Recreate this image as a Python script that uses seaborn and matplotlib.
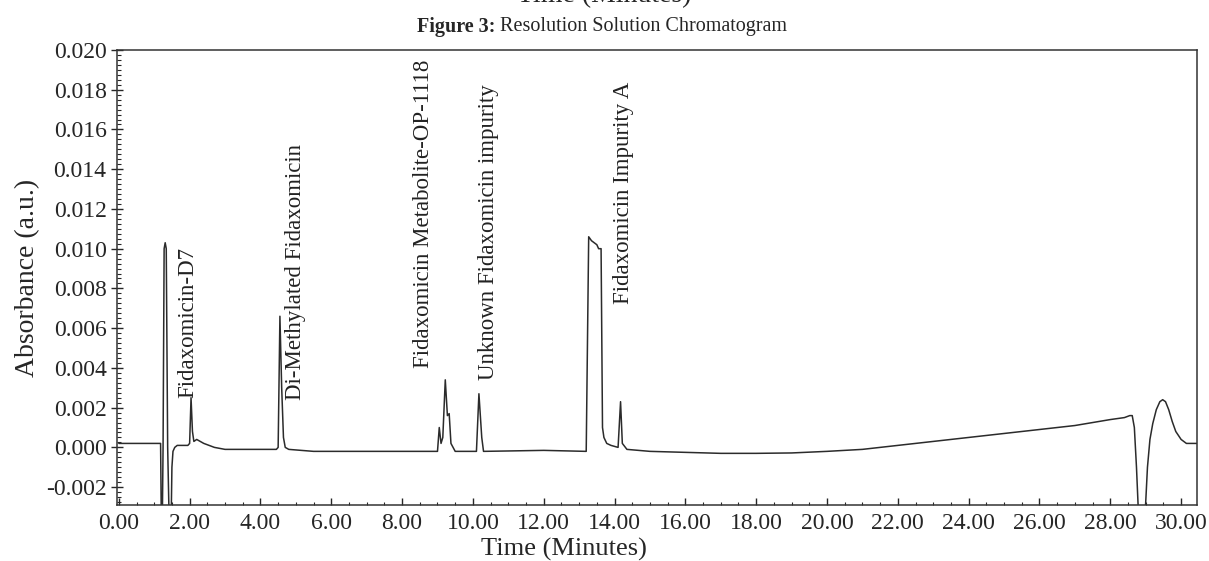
import numpy as np
import pandas as pd
import matplotlib
matplotlib.use("Agg")
import matplotlib.pyplot as plt
import seaborn as sns
from matplotlib.ticker import MultipleLocator, FormatStrFormatter

# chromatogram trace (time in minutes, absorbance in a.u.)
time_min = [
    0.00, 1.18, 1.20, 1.23, 1.25, 1.28, 1.31, 1.34, 1.38, 1.42, 1.48, 1.50,
    1.53, 1.58, 1.65, 1.80, 1.95, 2.00, 2.04, 2.08, 2.12, 2.20, 2.40, 2.70, 3.00,
    3.50, 4.45, 4.50, 4.55, 4.60, 4.65, 4.70, 4.80, 5.50, 7.00, 9.00, 9.05,
    9.10, 9.15, 9.22, 9.28, 9.33, 9.38, 9.50, 10.10, 10.17, 10.25, 10.30, 11.00, 12.00,
    13.20, 13.27, 13.35, 13.50, 13.55, 13.62, 13.66, 13.70, 13.78, 13.90, 14.10, 14.17, 14.22,
    14.35, 15.00, 16.00, 17.00, 18.00, 19.00, 20.00, 21.00, 22.00, 23.00, 24.00, 25.00, 26.00,
    27.00, 28.00, 28.40, 28.55, 28.62, 28.68, 28.74, 28.80, 28.98, 29.05, 29.12, 29.20, 29.30,
    29.40, 29.48, 29.56, 29.65, 29.75, 29.85, 30.00, 30.15, 30.45,
]
absorbance = [
    0.0002, 0.0002, -0.0035, -0.0035, 0.0000, 0.0100, 0.0103, 0.0100, 0.0000, -0.0035, -0.0035, -0.0010,
    -0.0002, 0.0000, 0.0001, 0.0001, 0.0001, 0.0002, 0.0025, 0.0008, 0.0003, 0.0004, 0.0002, 0.0000, -0.0001,
    -0.0001, -0.0001, 0.0000, 0.0066, 0.0030, 0.0005, 0.0000, -0.0001, -0.0002, -0.0002, -0.0002, 0.0010,
    0.0002, 0.0005, 0.0034, 0.0016, 0.0017, 0.0002, -0.0002, -0.0002, 0.0027, 0.0005, -0.0002, -0.00018, -0.00015,
    -0.0002, 0.0106, 0.0104, 0.0102, 0.0100, 0.0100, 0.0010, 0.0005, 0.0002, 0.0001, 0.0000, 0.0023, 0.0002,
    -0.0001, -0.0002, -0.00025, -0.0003, -0.0003, -0.00028, -0.0002, -0.0001, 0.0001, 0.0003, 0.0005, 0.0007, 0.0009,
    0.0011, 0.0014, 0.0015, 0.0016, 0.0016, 0.0010, -0.0010, -0.0035, -0.0035, -0.0010, 0.0004, 0.0012, 0.0019,
    0.0023, 0.0024, 0.0023, 0.0019, 0.0013, 0.0008, 0.0004, 0.0002, 0.0002,
]

peak_names = [
    "Fidaxomicin-D7",
    "Di-Methylated Fidaxomicin",
    "Fidaxomicin Metabolite-OP-1118",
    "Unknown Fidaxomicin impurity",
    "Fidaxomicin Impurity A",
]
label_time = [1.95, 5.00, 8.60, 10.45, 14.25]
label_base = [0.0025, 0.0024, 0.0040, 0.0034, 0.0072]

df = pd.DataFrame({"Time": time_min, "Absorbance": absorbance})

sns.set_style("ticks")
plt.rcParams["font.family"] = ["Liberation Serif", "DejaVu Serif"]

fig = plt.figure(figsize=(12.09, 5.61), dpi=100)
ax = fig.add_axes([0.0968, 0.0998, 0.8933, 0.8111])

sns.lineplot(data=df, x="Time", y="Absorbance", ax=ax, color="#2b2b2b",
             linewidth=1.1, estimator=None, sort=False)

for name, t, b in zip(peak_names, label_time, label_base):
    ax.text(t, b, name, rotation=90, ha="center", va="bottom",
            fontsize=16.5, color="#222222")

ax.set_xlim(-0.05, 30.45)
ax.set_ylim(-0.0029, 0.0200)
ax.xaxis.set_major_locator(MultipleLocator(2))
ax.xaxis.set_minor_locator(MultipleLocator(0.5))
ax.yaxis.set_major_locator(MultipleLocator(0.002))
ax.yaxis.set_minor_locator(MultipleLocator(0.00025))
ax.xaxis.set_major_formatter(FormatStrFormatter("%.2f"))
ax.yaxis.set_major_formatter(FormatStrFormatter("%.3f"))
ax.tick_params(axis="y", which="major", direction="inout", length=8, width=1, labelsize=17)
ax.tick_params(axis="y", which="minor", direction="in", length=3, width=0.8)
ax.tick_params(axis="x", which="major", direction="in", length=5, width=1, labelsize=17, pad=6)
ax.tick_params(axis="x", which="minor", direction="in", length=2.5, width=0.8)
for s in ax.spines.values():
    s.set_color("#333333")
    s.set_linewidth(1.1)

ax.set_xlabel("Time (Minutes)", fontsize=19)
ax.xaxis.set_label_coords(0.414, -0.072)
ax.set_ylabel("Absorbance (a.u.)", fontsize=20, labelpad=4)

# caption above the chart, with the tail of a clipped label at the very top
fig.text(0.5, 1.008, "Time (Minutes)", ha="center", va="center", fontsize=20)
fig.text(495 / 1209, 1 - 27 / 561, "Figure 3:", ha="right", va="center",
         fontsize=14.5, fontweight="bold")
fig.text(500 / 1209, 1 - 27 / 561, "Resolution Solution Chromatogram",
         ha="left", va="center", fontsize=14.5)

fig.savefig("out.png", dpi=100)
